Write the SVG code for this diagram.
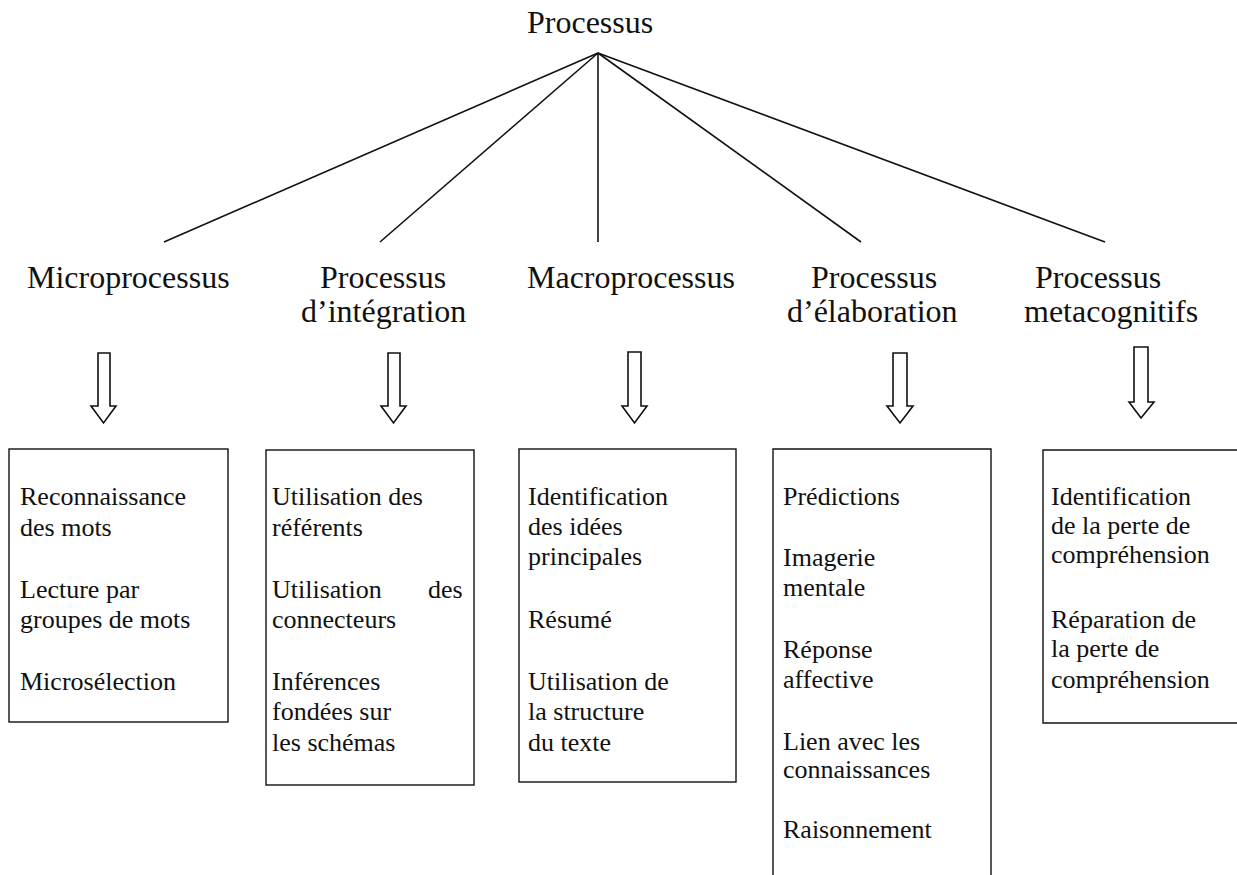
<svg xmlns="http://www.w3.org/2000/svg" width="1237" height="875" viewBox="0 0 1237 875">
<style>
  .bg { fill: #ffffff; }
  .lbl { font-family: "Liberation Serif", "Times New Roman", serif; font-size: 32px; fill: #111; }
  .txt { font-family: "Liberation Serif", "Times New Roman", serif; font-size: 26px; fill: #111; }
  .box { fill: none; stroke: #111; stroke-width: 1.4; }
  .edge { stroke: #111; stroke-width: 1.6; fill: none; }
  .arrow { fill: #fff; stroke: #111; stroke-width: 1.6; stroke-linejoin: miter; }
</style>
<rect class="bg" x="0" y="0" width="1237" height="875"/>

<g id="connectors">
  <line class="edge" x1="598" y1="53" x2="164" y2="242"/>
  <line class="edge" x1="598" y1="53" x2="380" y2="242"/>
  <line class="edge" x1="598" y1="53" x2="598" y2="242"/>
  <line class="edge" x1="598" y1="53" x2="861" y2="242"/>
  <line class="edge" x1="598" y1="53" x2="1105" y2="242"/>
  <polygon class="arrow" points="98,353 110,353 110,406 116,406 103.5,423 91,406 98,406"/>
  <polygon class="arrow" points="388,353 400,353 400,406 406,406 393.5,423 381,406 388,406"/>
  <polygon class="arrow" points="628,352 641,352 641,406 647,406 634.5,423 622,406 628,406"/>
  <polygon class="arrow" points="893,353 907,353 907,406 913,406 900,423 887,406 893,406"/>
  <polygon class="arrow" points="1134,347 1148,347 1148,402 1154,402 1141,418 1129,402 1134,402"/>
</g>

<g id="root">
  <text class="lbl" x="527" y="33">Processus</text>
</g>

<g id="micro">
  <text class="lbl" x="27" y="288">Microprocessus</text>
</g>
<g id="integration">
  <text class="lbl" x="320" y="288">Processus</text>
  <text class="lbl" x="301" y="322">d’intégration</text>
</g>
<g id="macro">
  <text class="lbl" x="527" y="288">Macroprocessus</text>
</g>
<g id="elaboration">
  <text class="lbl" x="811" y="288">Processus</text>
  <text class="lbl" x="787" y="322">d’élaboration</text>
</g>
<g id="meta">
  <text class="lbl" x="1035" y="288">Processus</text>
  <text class="lbl" x="1024" y="322">metacognitifs</text>
</g>

<g id="box-micro">
  <rect class="box" x="9" y="449" width="219" height="273"/>
  <text class="txt" x="20" y="505">Reconnaissance</text>
  <text class="txt" x="20" y="536">des mots</text>
  <text class="txt" x="20" y="598">Lecture par</text>
  <text class="txt" x="20" y="628">groupes de mots</text>
  <text class="txt" x="20" y="690">Microsélection</text>
</g>

<g id="box-integration">
  <rect class="box" x="266" y="450" width="208" height="335"/>
  <text class="txt" x="272" y="505">Utilisation des</text>
  <text class="txt" x="272" y="536">référents</text>
  <text class="txt" y="598"><tspan x="272">Utilisation</tspan><tspan x="428">des</tspan></text>
  <text class="txt" x="272" y="628">connecteurs</text>
  <text class="txt" x="272" y="690">Inférences</text>
  <text class="txt" x="272" y="720">fondées sur</text>
  <text class="txt" x="272" y="751">les schémas</text>
</g>

<g id="box-macro">
  <rect class="box" x="519" y="449" width="217" height="333"/>
  <text class="txt" x="528" y="505">Identification</text>
  <text class="txt" x="528" y="535">des idées</text>
  <text class="txt" x="528" y="565">principales</text>
  <text class="txt" x="528" y="628">Résumé</text>
  <text class="txt" x="528" y="690">Utilisation de</text>
  <text class="txt" x="528" y="720">la structure</text>
  <text class="txt" x="528" y="751">du texte</text>
</g>

<g id="box-elaboration">
  <path class="box" d="M773,880 L773,449 L991,449 L991,880"/>
  <text class="txt" x="783" y="505">Prédictions</text>
  <text class="txt" x="783" y="566">Imagerie</text>
  <text class="txt" x="783" y="596">mentale</text>
  <text class="txt" x="783" y="658">Réponse</text>
  <text class="txt" x="783" y="688">affective</text>
  <text class="txt" x="783" y="750">Lien avec les</text>
  <text class="txt" x="783" y="778">connaissances</text>
  <text class="txt" x="783" y="838">Raisonnement</text>
</g>

<g id="box-meta">
  <path class="box" d="M1240,450 L1043,450 L1043,723 L1240,723"/>
  <text class="txt" x="1051" y="505">Identification</text>
  <text class="txt" x="1051" y="534">de la perte de</text>
  <text class="txt" x="1051" y="563">compréhension</text>
  <text class="txt" x="1051" y="628">Réparation de</text>
  <text class="txt" x="1051" y="657">la perte de</text>
  <text class="txt" x="1051" y="688">compréhension</text>
</g>
</svg>
